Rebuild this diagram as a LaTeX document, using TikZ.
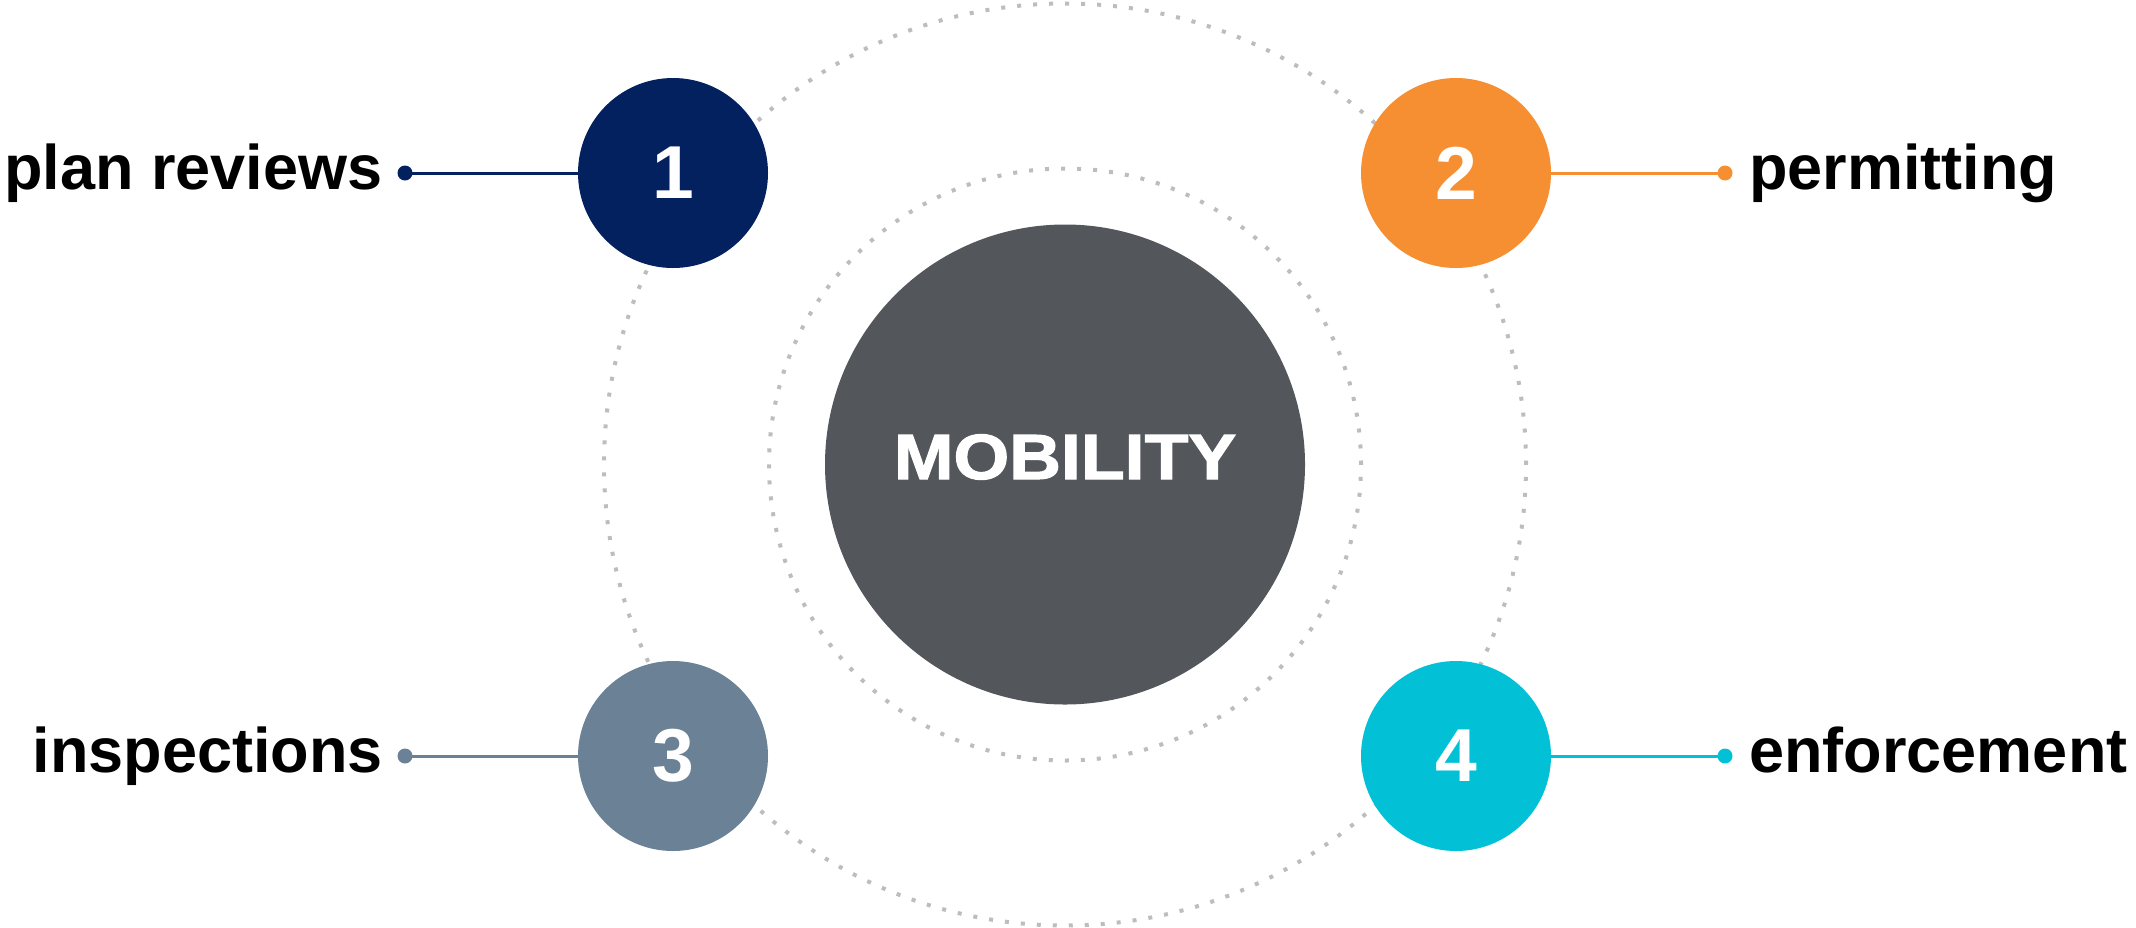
\documentclass[tikz,border=0pt]{standalone}
\usepackage{fontspec}
\setmainfont{Liberation Sans}
\newfontfamily\heavyfont[FakeBold=1.6]{Liberation Sans Bold}
\definecolor{cnavy}{HTML}{03205F}
\definecolor{corange}{HTML}{F68F31}
\definecolor{cslate}{HTML}{6A8196}
\definecolor{ccyan}{HTML}{02C1D7}
\definecolor{cgray}{HTML}{53575C}
\definecolor{cdots}{HTML}{BDBDBD}
\begin{document}
\begin{tikzpicture}[x=0.5pt,y=-0.5pt,
  dotring/.style={draw=cdots, line width=2pt},
  numcircle/.style={circle, minimum size=95pt, inner sep=0pt, text=white,
    font=\bfseries\fontsize{37.5}{40}\selectfont},
  enddot/.style={circle, minimum size=7.5pt, inner sep=0pt},
  connector/.style={line width=1.5pt},
  labeltext/.style={inner sep=0pt, font=\bfseries\fontsize{31.5}{36}\selectfont}]
\useasboundingbox (0,0) rectangle (2136,927);
\coordinate (c) at (1065,464.5);
% dotted rings
\draw[dotring, dash pattern=on 2pt off {1448.3pt/181-2pt}] (c) circle[radius=230.5pt];
\draw[dotring, dash pattern=on 2pt off {929.9pt/116-2pt}] (c) circle[radius=148pt];
% centre
\node[circle, fill=cgray, minimum size=240pt, inner sep=0pt] (m) at (c) {};
\node[inner sep=0pt, text=white, font=\heavyfont\fontsize{32}{36}\selectfont] (mt) at (1065,457) {\scalebox{1.12}[1]{MOBILITY}};
% numbered circles
\node[numcircle, fill=cnavy] (n1) at (673,173) {1};
\node[numcircle, fill=corange] (n2) at (1456,173) {2};
\node[numcircle, fill=cslate] (n3) at (673,756) {3};
\node[numcircle, fill=ccyan] (n4) at (1456,756) {4};
% end dots
\node[enddot, fill=cnavy] (d1) at (405,173) {};
\node[enddot, fill=corange] (d2) at (1725,173) {};
\node[enddot, fill=cslate] (d3) at (405,756) {};
\node[enddot, fill=ccyan] (d4) at (1725,756) {};
% connectors
\draw[connector, cnavy] (n1.west) -- (d1.center);
\draw[connector, corange] (n2.east) -- (d2.center);
\draw[connector, cslate] (n3.west) -- (d3.center);
\draw[connector, ccyan] (n4.east) -- (d4.center);
% labels
\node[labeltext, anchor=base east] (l1) at (383,189) {plan reviews};
\node[labeltext, anchor=base west] (l2) at (1749,189) {permitting};
\node[labeltext, anchor=base east] (l3) at (383,772) {inspections};
\node[labeltext, anchor=base west] (l4) at (1749,772) {enforcement};
\end{tikzpicture}
\end{document}
